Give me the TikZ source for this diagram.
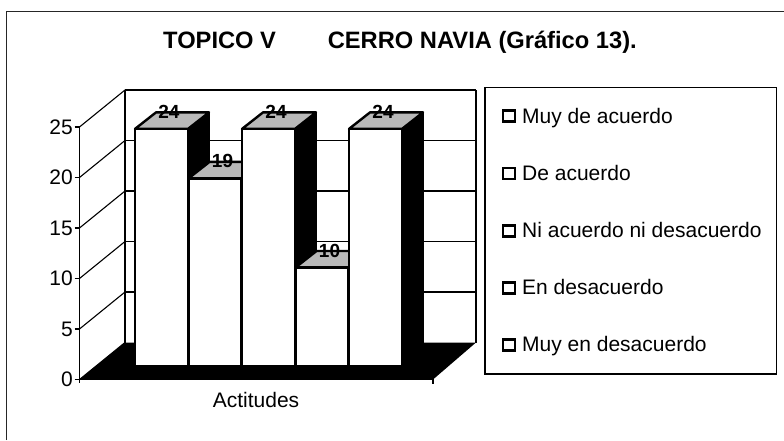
\documentclass[tikz,border=0pt]{standalone}
\usepackage{fontspec}
\setmainfont{Liberation Sans}
\begin{document}
\begin{tikzpicture}[x=1pt,y=-1pt,
  frameline/.style={line width=1.3pt, black!85},
  gridline/.style={line width=1.1pt, black},
  barfront/.style={fill=white, draw=black, line width=2.4pt, line join=round},
  barside/.style={fill=black, draw=black, line width=1.5pt, line join=round},
  bartop/.style={fill=gray!55, draw=black, line width=2.4pt, line join=round},
  vallabel/.style={font=\fontsize{19}{19}\selectfont\bfseries, inner sep=0pt},
  axlabel/.style={font=\fontsize{21}{21}\selectfont, anchor=east, inner sep=0pt},
  legtext/.style={font=\fontsize{21}{21}\selectfont, anchor=base west, inner sep=0pt},
  legmark/.style={draw=black, line width=2.8pt, fill=white, minimum width=12pt, minimum height=11pt, inner sep=0pt},
  titletext/.style={font=\fontsize{23.7}{23.7}\selectfont\bfseries, anchor=base west, inner sep=0pt}
]
\useasboundingbox (0,0) rectangle (784,440);
\fill[white] (0,0) rectangle (784,440);
% outer frame
\draw[frameline] (6.5,440) -- (6.5,11.5) -- (784,11.5);
% title
\node[titletext] (t1) at (163,48) {TOPICO V};
\node[titletext] (t2) at (327.6,48) {CERRO NAVIA (Gráfico 13).};
% walls
\fill[white] (79.5,379.5) -- (79.5,127) -- (125,90) -- (476,90) -- (476,342.5) -- (125,342.5) -- cycle;
\foreach \k in {0,...,5}{
  \draw[gridline] (79.5,379.5-50.5*\k) -- (125,342.5-50.5*\k);
  \draw[gridline] (74.5,379.5-50.5*\k) -- (79.5,379.5-50.5*\k);
}
\foreach \k in {1,...,5}{
  \draw[gridline] (125,342.5-50.5*\k) -- (476,342.5-50.5*\k);
}
\draw[gridline] (125,90) -- (125,342.5);
\draw[gridline] (476,90) -- (476,342.5);
% floor
\fill[black] (79.5,379.5) -- (433,379.5) -- (476,342.5) -- (125,342.5) -- cycle;
% front axis
\draw[gridline] (79.5,127) -- (79.5,383);
\draw[gridline] (79.5,379.5) -- (433,379.5) -- (433,384);
% bars
\foreach \i/\v in {0/24,1/19,2/24,3/10,4/24}{
  \pgfmathsetmacro\L{135+53.5*\i}
  \pgfmathsetmacro\R{\L+53}
  \pgfmathsetmacro\T{366.5-9.9*\v}
  \draw[barside] (\R,366.5) -- (\R,\T) -- (\R+21,\T-16.5) -- (\R+21,350) -- cycle;
  \draw[bartop] (\L,\T) -- (\R,\T) -- (\R+21,\T-16.5) -- (\L+21,\T-16.5) -- cycle;
  \draw[barfront] (\L,\T) rectangle (\R,366.5);
  \node[vallabel] (v\i) at (\L+34,\T-17) {\v};
}
% axis labels
\foreach \k/\n in {0/0,1/5,2/10,3/15,4/20,5/25}{
  \node[axlabel] (y\k) at (73,379.5-50.5*\k) {\n};
}
\node[font=\fontsize{21}{21}\selectfont, inner sep=0pt] (xl) at (256,400) {Actitudes};
% legend
\draw[line width=1.2pt] (485,87.5) rectangle (776.5,374);
\foreach \j/\t in {0/Muy de acuerdo,1/De acuerdo,2/Ni acuerdo ni desacuerdo,3/En desacuerdo,4/Muy en desacuerdo}{
  \node[legmark] (m\j) at (509,116.2+57.2*\j) {};
  \node[legtext] (l\j) at (522,123+57.2*\j) {\t};
}
\end{tikzpicture}
\end{document}
